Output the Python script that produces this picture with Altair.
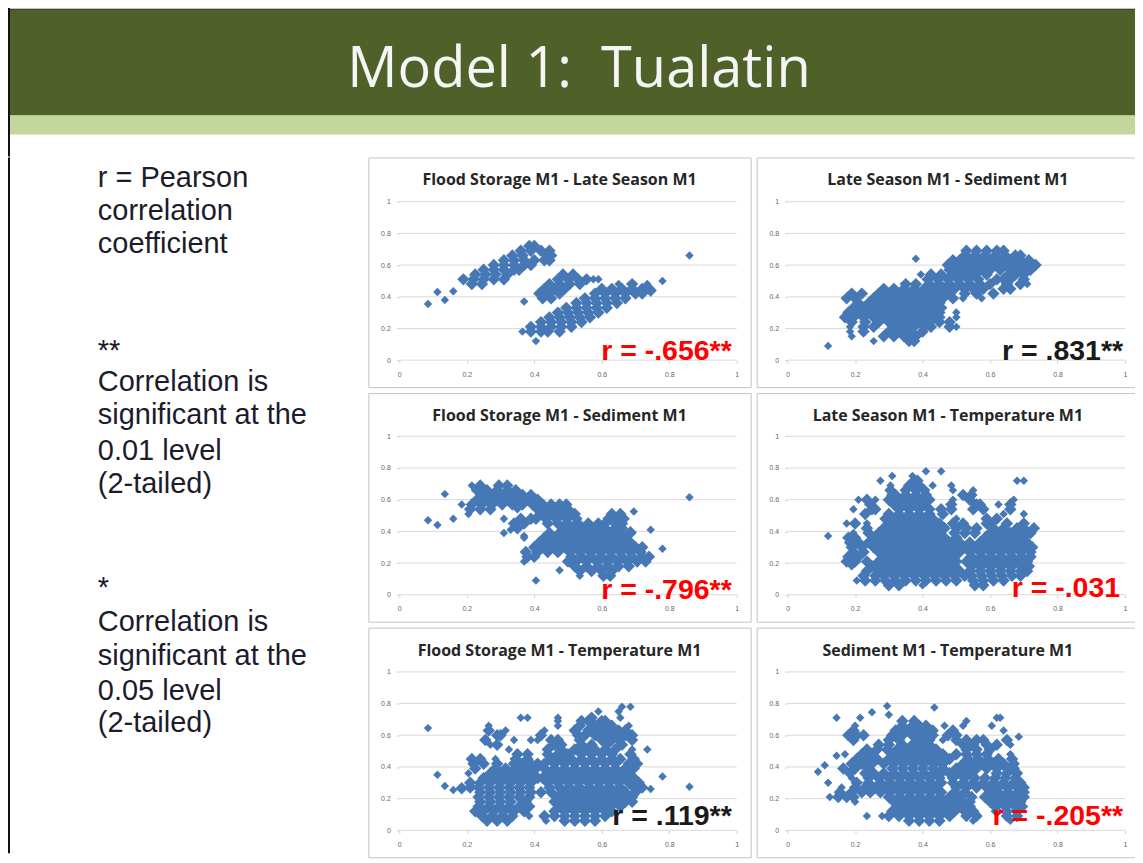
import altair as alt
import pandas as pd

TITLE = "Model 1:\u00a0\u00a0Tualatin"
TICKS = [0, 0.2, 0.4, 0.6, 0.8, 1]

LEFT_LINES = ["r = Pearson", "correlation", "coefficient", "**", "Correlation is", "significant at the",
              "0.01 level", "(2-tailed)", "*", "Correlation is", "significant at the", "0.05 level", "(2-tailed)"]

NAMES = ["Flood Storage M1 - Late Season M1", "Late Season M1 - Sediment M1",
         "Flood Storage M1 - Sediment M1", "Late Season M1 - Temperature M1",
         "Flood Storage M1 - Temperature M1", "Sediment M1 - Temperature M1"]
R_TEXT = ["r = -.656**", "r = .831**", "r = -.796**", "r = -.031", "r = .119**", "r = -.205**"]
R_COLOR = ["#ff0000", "#1a1a1a", "#ff0000", "#ff0000", "#1a1a1a", "#ff0000"]

FLOOD_LATE = [
    (.355, [.085]), (.43, [.113]), (.38, [.135]), (.435, [.16]), (.37, [.37]), (.12, [.405]), (.50, [.78]), (.66, [.86]), (.44, [.745]),
    (.48, [.215, .245]), (.51, [.19, .22, .25, .28, .31]), (.54, [.225, .255, .285, .32]),
    (.57, [.25, .28, .31, .34, .355]), (.60, [.28, .31, .34, .37, .39]),
    (.63, [.31, .34, .37, .40, .43, .445]), (.66, [.335, .365, .44, .45]), (.69, [.36, .39, .42, .445]), (.72, [.385, .40]),
    (.39, [.425, .45]), (.42, [.415, .445, .475]), (.45, [.43, .46, .49]), (.48, [.445, .475, .505, .535]),
    (.51, [.47, .50, .53, .555, .575, .59]), (.54, [.485, .515]),
    (.18, [.365, .39, .42, .44, .475]), (.21, [.39, .42, .45, .48, .51]), (.24, [.42, .45, .48, .51, .54]),
    (.27, [.445, .475, .505, .535, .565]), (.30, [.47, .50, .53, .56, .59]), (.33, [.495, .525, .555, .585, .615]),
    (.36, [.525, .555, .585, .615, .645]), (.39, [.55, .58, .61, .64, .67]), (.42, [.58, .61, .64, .67, .70, .72]),
    (.45, [.60, .63, .66, .69, .72, .74]), (.48, [.65, .69, .735]),
]

LATE_SED = [
    (.09, [.12]), (.64, [.38]),
    (.12, [.255, .36, .375]), (.15, [.19, .285, .315, .345, .38]), (.18, [.185, .225, .30, .33, .36, .40]),
    (.21, [.185, .225, .255, .315, .345, .375, .405, .425, .48, .50]),
    (.24, [.19, .23, .27, .30, .33, .36, .39, .42, .45, .48]),
    (.27, [.17, .195, .225, .255, .285, .315, .345, .375, .405, .435, .45, .50]),
    (.30, [.18, .21, .24, .27, .30, .33, .36, .39, .42, .45, .50]),
    (.33, [.195, .225, .255, .285, .315, .345, .375, .405, .435, .455]),
    (.36, [.21, .24, .27, .30, .33, .36, .39, .42, .45]),
    (.39, [.175, .20, .255, .285, .315, .345, .375, .405, .435, .46, .49, .52, .575]),
    (.42, [.19, .22, .27, .30, .33, .36, .39, .42, .45, .48, .525, .56, .61]),
    (.45, [.285, .315, .345, .375, .405, .435, .465, .495, .525, .55, .58, .64, .66]),
    (.48, [.35, .38, .42, .45, .48, .51, .54, .57, .60, .65, .69, .71]),
    (.51, [.415, .445, .475, .505, .535, .565, .62, .64, .66, .70]),
    (.54, [.395, .425, .455, .49, .52, .55, .59, .655, .675, .70]),
    (.57, [.48, .51, .54, .57, .60, .63, .66, .69, .72]),
    (.60, [.475, .50, .525, .555, .585, .615, .645, .675, .705, .735]),
    (.63, [.49, .51, .54, .57, .60, .63, .66, .69, .715]),
    (.66, [.525, .555, .585, .615, .645, .675, .69]),
    (.69, [.53, .56, .59, .62, .64]),
]

FLOOD_SED = [
    (.47, [.085]), (.44, [.113]), (.635, [.135]), (.48, [.16]), (.615, [.86]), (.29, [.78]), (.41, [.745]), (.525, [.695]),
    (.395, [.685]), (.09, [.405]), (.155, [.475]), (.39, [.31]), (.41, [.33]), (.37, [.37]),
    (.69, [.215, .24, .295, .32]), (.66, [.23, .26, .29, .32, .345]), (.63, [.245, .275, .305, .335, .365, .39]),
    (.60, [.23, .26, .29, .32, .35, .38, .41]),
    (.57, [.185, .215, .245, .275, .305, .335, .365, .395, .425, .45, .475, .495]),
    (.54, [.21, .24, .27, .35, .41, .44, .47, .50]),
    (.51, [.205, .42, .45, .48, .51, .52, .63, .655]),
    (.48, [.31, .36, .39, .405, .435, .465, .495, .525, .62, .645, .665]),
    (.45, [.34, .37, .44, .47, .50, .53, .56, .59, .61, .64, .66]),
    (.42, [.35, .49, .52, .55, .58, .61, .64, .66]),
    (.39, [.445, .475, .505, .535, .565, .595, .625, .655, .685]),
    (.36, [.37, .43, .46, .49, .52, .55, .58, .61, .64, .67]),
    (.33, [.415, .445, .475, .505, .535, .565, .595, .625, .655, .685]),
    (.30, [.40, .43, .46, .49, .52, .55, .58, .61, .64, .67, .70, .72]),
    (.27, [.375, .41, .44, .47, .505, .535, .565, .595, .625, .655, .685, .715]),
    (.24, [.38, .40, .51, .54, .57, .60, .63, .66, .69, .72, .74]),
    (.21, [.37, .50, .525, .555, .585, .615, .645, .675, .705, .73]),
    (.18, [.52, .555, .59, .62, .65, .68]), (.15, [.535, .57, .60, .63]), (.12, [.535, .605, .625]),
]

LATE_TEMP = [
    (.37, [.12]),
    (.06, [.30, .33, .40, .555, .58]),
    (.09, [.205, .23, .26, .29, .32, .35, .38, .41, .44, .47, .50, .55, .58, .61, .64]),
    (.12, [.225, .26, .285, .315, .345, .375, .405, .435, .465, .495, .525, .545, .575, .605, .635, .665, .69]),
    (.15, [.235, .27, .30, .33, .36, .39, .42, .45, .48, .51, .54, .57, .60, .63, .66, .69, .71]),
    (.18, [.19, .25, .285, .315, .345, .375, .405, .435, .465, .495, .545, .575, .605, .635, .665, .695, .715]),
    (.21, [.175, .20, .235, .27, .30, .33, .36, .39, .42, .45, .48, .50, .53, .56, .59, .62, .65, .68, .71]),
    (.24, [.18, .21, .285, .315, .345, .375, .405, .435, .465, .495, .545, .575, .605, .635, .665, .695, .72]),
    (.27, [.195, .225, .27, .30, .33, .36, .39, .42, .45, .48, .51, .54, .57, .60, .63, .66, .69, .72]),
    (.30, [.19, .22, .255, .285, .315, .345, .375, .405, .435, .465, .495, .525, .555, .585, .615, .645, .675, .705, .725]),
    (.33, [.185, .21, .24, .27, .30, .33, .36, .39, .42, .45, .48, .51, .54, .57, .60, .63, .66, .69, .71]),
    (.36, [.18, .20, .255, .285, .315, .345, .375, .405, .435, .465, .50, .585, .615, .645, .675, .70]),
    (.39, [.195, .24, .27, .30, .33, .36, .39, .42, .45, .495, .525, .555, .60, .63, .66, .69, .72]),
    (.42, [.235, .285, .315, .345, .375, .405, .435, .465, .50, .53, .56, .61, .64, .68, .70, .73]),
    (.45, [.175, .20, .235, .30, .33, .36, .39, .42, .45, .49, .52, .59, .60, .65, .70]),
    (.48, [.29, .315, .345, .375, .405, .43, .50, .59, .62]),
    (.51, [.23, .30, .33, .36, .39, .42, .46, .64, .70]),
    (.54, [.195, .25, .26, .33, .36, .39, .42, .455, .485, .55, .58, .66]),
    (.57, [.245, .315, .345, .375, .405, .485, .56, .57, .625, .66]),
    (.60, [.21, .235, .26, .30, .33, .36, .39, .42, .49, .54, .67]),
    (.63, [.31, .32, .35, .38, .41, .52, .545]),
    (.66, [.305, .35, .38, .405, .49, .55]),
    (.69, [.305, .36, .39, .43, .485]),
    (.72, [.275, .375, .385, .68, .70]),
    (.75, [.31, .37]), (.78, [.41, .455]),
]

FLOOD_TEMP = [
    (.645, [.085]), (.35, [.113]), (.28, [.135]), (.255, [.16]), (.265, [.185]), (.275, [.86]), (.34, [.78]), (.51, [.735]), (.12, [.225]), (.26, [.745]),
    (.06, [.26, .29, .32, .435, .49, .52, .55, .58]),
    (.09, [.245, .275, .305, .335, .385, .43, .46, .49, .52, .55, .58, .61]),
    (.12, [.25, .28, .31, .34, .37, .46, .49, .52, .55, .58, .61, .63]),
    (.15, [.235, .265, .295, .325, .355, .385, .475, .505, .535, .565, .595, .625, .655]),
    (.18, [.24, .27, .30, .33, .375, .46, .49, .52, .55, .58, .61, .64, .67, .69]),
    (.21, [.235, .265, .295, .325, .355, .385, .47, .505, .535, .565, .595, .625, .655, .69]),
    (.24, [.24, .27, .30, .33, .36, .39, .42, .45, .49, .52, .55, .58, .61, .64, .67, .70]),
    (.27, [.21, .235, .265, .295, .325, .355, .385, .445, .475, .505, .535, .565, .595, .625, .655, .695, .72]),
    (.30, [.21, .24, .27, .30, .33, .36, .39, .44, .47, .50, .53, .56, .59, .62, .65, .68, .71]),
    (.33, [.25, .285, .315, .345, .375, .41, .425, .455, .485, .515, .545, .575, .605, .635, .665, .695]),
    (.36, [.205, .27, .30, .33, .36, .39, .44, .47, .50, .53, .56, .59, .62, .65, .68]),
    (.39, [.225, .285, .315, .345, .375, .405, .43, .46, .49, .52, .55, .58, .61, .64, .67, .695]),
    (.42, [.22, .25, .29, .34, .365, .39, .41, .43, .46, .49, .52, .55, .58, .61, .64, .68, .705]),
    (.45, [.215, .24, .285, .345, .38, .45, .48, .51, .54, .57, .60, .63, .655, .695]),
    (.48, [.35, .38, .44, .47, .50, .54, .57, .60, .63, .685]),
    (.51, [.325, .44, .48, .52, .55, .58, .61, .64, .69]),
    (.54, [.27, .29, .46, .48, .54, .57, .615, .66]),
    (.57, [.255, .34, .39, .41, .45, .47, .535, .60, .63, .65, .69]),
    (.60, [.29, .30, .42, .53, .55, .58, .61, .64, .67, .69]),
    (.63, [.265, .315, .43, .52, .56, .59, .62, .65, .67]),
    (.66, [.265, .47, .535, .58, .60, .63, .68]),
    (.69, [.47, .54, .56, .60, .61]),
    (.71, [.36, .38, .47, .57, .655]),
    (.75, [.59, .65]), (.78, [.66, .685]),
]

SED_TEMP = [
    (.37, [.09]), (.41, [.11]), (.47, [.145]), (.30, [.12]), (.71, [.145, .215, .62, .63]), (.745, [.25]), (.785, [.295]), (.73, [.30]), (.775, [.435]), (.59, [.685]),
    (.06, [.36, .39, .42, .45, .55, .66]),
    (.09, [.235, .28, .30, .33, .36, .39, .42, .45, .48, .53, .56, .65, .68]),
    (.12, [.31, .345, .375, .405, .435, .465, .495, .525, .55, .62, .65, .68]),
    (.15, [.33, .36, .39, .42, .45, .48, .51, .54, .615, .645, .675, .695]),
    (.18, [.20, .315, .345, .375, .405, .435, .465, .495, .52, .54, .60, .63, .66, .69]),
    (.21, [.125, .15, .175, .195, .30, .33, .36, .39, .42, .45, .48, .51, .545, .585, .615, .645, .675, .70]),
    (.24, [.155, .19, .22, .245, .275, .305, .335, .365, .395, .425, .455, .495, .525, .60, .625, .655, .685, .70]),
    (.27, [.16, .20, .23, .26, .29, .32, .35, .38, .41, .44, .50, .53, .56, .59, .62, .65, .68, .70]),
    (.30, [.205, .24, .275, .305, .335, .365, .395, .425, .455, .49, .52, .55, .58, .61, .64, .67, .69]),
    (.33, [.19, .24, .27, .30, .33, .36, .39, .42, .45, .49, .525, .555, .585, .615, .645, .675]),
    (.36, [.185, .23, .255, .285, .315, .345, .375, .405, .435, .455, .48, .51, .54, .62, .65, .68]),
    (.39, [.165, .20, .24, .31, .34, .37, .40, .43, .46, .50, .53, .56, .59, .62, .65, .67]),
    (.42, [.19, .22, .25, .285, .315, .345, .375, .405, .435, .46, .52, .55, .58, .61, .64, .67]),
    (.45, [.205, .235, .265, .30, .33, .36, .39, .42, .45, .48, .535, .565, .595, .625, .665]),
    (.48, [.17, .22, .25, .31, .34, .37, .40, .43, .46, .50, .53, .56, .59, .66]),
    (.51, [.235, .265, .295, .325, .355, .385, .415, .44, .53, .56, .60]),
    (.54, [.27, .30, .34, .37, .40, .42, .52, .55, .59, .62, .66]),
    (.57, [.195, .30, .33, .39, .42, .46, .50, .53, .56, .58, .65]),
    (.60, [.18, .205, .225, .31, .34, .37, .40, .43, .475, .50]),
    (.63, [.195, .32, .35, .38, .41, .43, .49, .64]),
    (.66, [.20, .34, .37, .39, .41, .465, .52, .605]),
    (.69, [.34, .375, .53]),
]

PANELS = [FLOOD_LATE, LATE_SED, FLOOD_SED, LATE_TEMP, FLOOD_TEMP, SED_TEMP]

# layout (pixels)
COL_W = [383, 379]
ROW_H = [230, 229, 230]
R_POS = [(364, 194), (367, 194), (364, 197), (364, 195), (364, 189), (367, 189)]
LEFT_Y = [21, 54, 87, 194, 225, 258, 294, 327, 431, 465, 499, 534, 567]
CORE_SIZE = 155
EDGE_SIZE = 72


def one(**kw):
    return pd.DataFrame([kw])


def split_points(rows):
    pts = [(x, y) for y, xs in rows for x in xs]
    core, edge = [], []
    for p in pts:
        near = sum(1 for q in pts if q != p and abs(q[0] - p[0]) <= .036 and abs(q[1] - p[1]) <= .036)
        (core if near >= 3 else edge).append({"x": p[0], "y": p[1]})
    return pd.DataFrame(core, columns=["x", "y"]), pd.DataFrame(edge, columns=["x", "y"])


def panel(i, h):
    w = COL_W[i % 2]
    core, edge = split_points(PANELS[i])
    y0 = 27 / 158.7
    y_dom = [-y0, -y0 + h / 158.7]
    xs = alt.Scale(domain=[-31 / 338, (w - 31) / 338], nice=False, zero=False)
    ys = alt.Scale(domain=y_dom, nice=False, zero=False)
    x_axis = alt.Axis(values=TICKS, format="~g", title=None, grid=False, domain=False, offset=-27, tickSize=3,
                      tickColor="#d0d0d0", labelColor="#666666", labelFontSize=7, labelFont="Liberation Sans",
                      labelPadding=7, labelOverlap=False, labelFlush=False)
    y_axis = alt.Axis(values=TICKS, format="~g", title=None, grid=False, domain=False, offset=-31, tickSize=3,
                      tickColor="#d0d0d0", labelColor="#666666", labelFontSize=7, labelFont="Liberation Sans",
                      labelPadding=6, labelOverlap=False, labelFlush=False)
    grid = alt.Chart(pd.DataFrame({"y": TICKS, "a": [0] * 6, "b": [1] * 6})).mark_rule(color="#d9d9d9", strokeWidth=1).encode(
        x=alt.X("a:Q", scale=xs, axis=x_axis), x2="b:Q", y=alt.Y("y:Q", scale=ys, axis=y_axis))
    dots_core = alt.Chart(core).mark_point(shape="diamond", filled=True, size=CORE_SIZE, color="#4678b6", opacity=1, strokeWidth=0).encode(
        x=alt.X("x:Q", scale=xs), y=alt.Y("y:Q", scale=ys))
    dots_edge = alt.Chart(edge).mark_point(shape="diamond", filled=True, size=EDGE_SIZE, color="#4678b6", opacity=1, strokeWidth=0).encode(
        x=alt.X("x:Q", scale=xs), y=alt.Y("y:Q", scale=ys))
    name = alt.Chart(one(t=NAMES[i])).mark_text(font="Open Sans", fontWeight="bold", fontSize=16, color="#262626").encode(
        x=alt.value(191.5), y=alt.value(23), text="t:N")
    rx, ry = R_POS[i]
    rt = alt.Chart(one(t=R_TEXT[i])).mark_text(font="Liberation Sans", fontWeight="bold", fontSize=28.5, align="right", baseline="middle",
                                               color=R_COLOR[i]).encode(x=alt.value(rx), y=alt.value(ry), text="t:N")
    return alt.layer(grid, dots_core, dots_edge, name, rt).properties(width=w, height=h, view=alt.ViewConfig(stroke="#c4c4c4"))


rows = [alt.hconcat(panel(2 * r, ROW_H[r]), panel(2 * r + 1, ROW_H[r]), spacing=4) for r in range(3)]
grid_block = alt.vconcat(*rows, spacing=4)

blank = one(a=0)
left_layers = [alt.Chart(blank).mark_rule(color="#111111", strokeWidth=2).encode(x=alt.value(3), y=alt.value(0), y2=alt.value(697))]
for txt, yy in zip(LEFT_LINES, LEFT_Y):
    left_layers.append(alt.Chart(one(t=txt)).mark_text(font="Liberation Sans", fontSize=29, align="left", baseline="middle", color="#1c1c2c").encode(
        x=alt.value(92), y=alt.value(yy), text="t:N"))
left = alt.layer(*left_layers).properties(width=361, height=697, view=alt.ViewConfig(stroke="transparent"))

banner = alt.layer(
    alt.Chart(blank).mark_rect(color="#4f6128").encode(x=alt.value(4), x2=alt.value(1133), y=alt.value(3), y2=alt.value(109)),
    alt.Chart(blank).mark_rect(color="#c3d69b").encode(x=alt.value(4), x2=alt.value(1133), y=alt.value(109), y2=alt.value(128)),
    alt.Chart(blank).mark_rect(color="#111111").encode(x=alt.value(0), x2=alt.value(1133), y=alt.value(2), y2=alt.value(3)),
    alt.Chart(blank).mark_rect(color="#111111").encode(x=alt.value(0), x2=alt.value(4), y=alt.value(0), y2=alt.value(150)),
    alt.Chart(one(t=TITLE)).mark_text(font="Open Sans", fontSize=56, color="#f5f5f5", baseline="middle").encode(
        x=alt.value(574), y=alt.value(63), text="t:N"),
).properties(width=1127, height=150, view=alt.ViewConfig(stroke="transparent"))

chart = alt.vconcat(banner, alt.hconcat(left, grid_block, spacing=0), spacing=-3).properties(
    padding={"left": -3, "top": -3, "right": -3, "bottom": 3}, background="white")
chart.save("out.html", embed_options={"renderer": "svg", "actions": False})
